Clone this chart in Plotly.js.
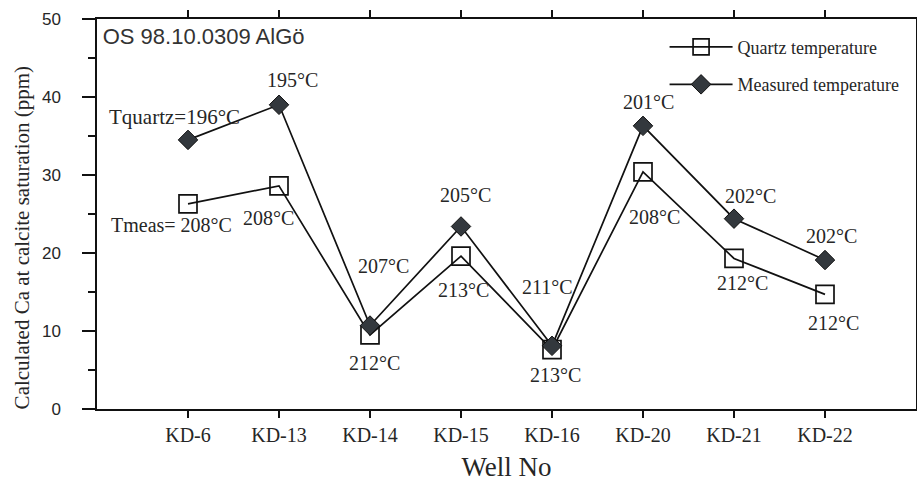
<!DOCTYPE html>
<html>
<head>
<meta charset="utf-8">
<script src="https://cdn.plot.ly/plotly-3.0.1.min.js"></script>
<style>html,body{margin:0;padding:0;background:#fff;}#chart{width:917px;height:482px;}</style>
</head>
<body>
<div id="chart"></div>
<script>
const wells = ['KD-6', 'KD-13', 'KD-14', 'KD-15', 'KD-16', 'KD-20', 'KD-21', 'KD-22'];
const quartzCa = [26.3, 28.6, 9.5, 19.6, 7.6, 30.4, 19.3, 14.7];
const measuredCa = [34.5, 39.0, 10.7, 23.4, 8.1, 36.3, 24.4, 19.1];
const quartzTempLabels = ['Tmeas= 208°C', '208°C', '212°C', '213°C', '213°C', '208°C', '212°C', '212°C'];
const measuredTempLabels = ['Tquartz=196°C', '195°C', '207°C', '205°C', '211°C', '201°C', '202°C', '202°C'];
const yTicks = [0, 10, 20, 30, 40, 50];

// label offsets in pixels relative to their point (styling only)
const quartzOffsets = [[-17, -21], [-11, -32], [4, -28], [2, -34], [3, -25], [11, -45], [8, -25], [8, -29]];
const measuredOffsets = [[-14, 23], [13, 25], [13, 60], [4, 31], [-5, 59], [5, 24], [16, 23], [6, 24]];

const serif = 'Liberation Serif, Times New Roman, serif';
const sans = 'Liberation Sans, Arial, sans-serif';
const txt = '#262626';

const traces = [
  {
    x: wells, y: quartzCa, name: 'Quartz temperature', type: 'scatter', mode: 'lines+markers',
    legendgroup: 'q',
    line: {color: '#111', width: 1.7},
    marker: {symbol: 'square-open', size: 18, color: '#111', line: {width: 1.7, color: '#111'}}
  },
  {
    x: wells, y: measuredCa, name: 'Measured temperature', type: 'scatter', mode: 'lines+markers',
    legendgroup: 'm',
    line: {color: '#111', width: 1.7},
    marker: {symbol: 'diamond', size: 15, color: '#33383d', line: {width: 1, color: '#111'}}
  }
];

const annotations = [];
wells.forEach((w, i) => {
  annotations.push({x: w, y: quartzCa[i], xref: 'x', yref: 'y', text: quartzTempLabels[i], showarrow: false,
    xshift: quartzOffsets[i][0], yshift: quartzOffsets[i][1], font: {family: serif, size: 20, color: txt}});
  annotations.push({x: w, y: measuredCa[i], xref: 'x', yref: 'y', text: measuredTempLabels[i], showarrow: false,
    xshift: measuredOffsets[i][0], yshift: measuredOffsets[i][1], font: {family: serif, size: i === 0 ? 21 : 20, color: txt}});
});
annotations.push({
  xref: 'paper', yref: 'paper', x: -0.0916, y: 0.44, xanchor: 'center', yanchor: 'middle', textangle: -90, showarrow: false,
  text: 'Calculated Ca at calcite saturation (ppm)', font: {family: serif, size: 21, color: txt}
});

const layout = {
  width: 917, height: 482,
  margin: {l: 97, r: 1, t: 19, b: 73},
  paper_bgcolor: '#fff', plot_bgcolor: '#fff',
  showlegend: true,
  title: {text: 'OS 98.10.0309 AlGö', x: 0.007, xref: 'paper', xanchor: 'left', y: 0.956, yref: 'paper', yanchor: 'middle',
    font: {family: sans, size: 22, color: '#333'}},
  legend: {x: 0.693, xanchor: 'left', y: 0.975, yanchor: 'top', bgcolor: 'rgba(0,0,0,0)',
    itemwidth: 63, tracegroupgap: 11, font: {family: serif, size: 18, color: txt}},
  xaxis: {
    type: 'category', categoryorder: 'array', categoryarray: wells, range: [-1, 8],
    showgrid: false, zeroline: false, showline: true, linecolor: '#111', linewidth: 1.7,
    mirror: 'allticks', ticks: 'outside', ticklen: 7, tickwidth: 1.5, tickcolor: '#111',
    tickfont: {family: serif, size: 20, color: txt},
    title: {text: 'Well No', standoff: 13, font: {family: serif, size: 27, color: txt}}
  },
  yaxis: {
    range: [0, 50], tickmode: 'array', tickvals: yTicks,
    showgrid: false, zeroline: false, showline: true, linecolor: '#111', linewidth: 1.7, mirror: true,
    ticks: 'outside', ticklen: 13, tickwidth: 1.5, tickcolor: '#111', ticklabelstandoff: 18,
    tickfont: {family: sans, size: 17, color: txt},
    minor: {dtick: 5, ticks: 'outside', ticklen: 7, tickwidth: 1.5, tickcolor: '#111', showgrid: false}
  },
  annotations: annotations
};

Plotly.newPlot('chart', traces, layout, {displayModeBar: false, staticPlot: true});
</script>
</body>
</html>
